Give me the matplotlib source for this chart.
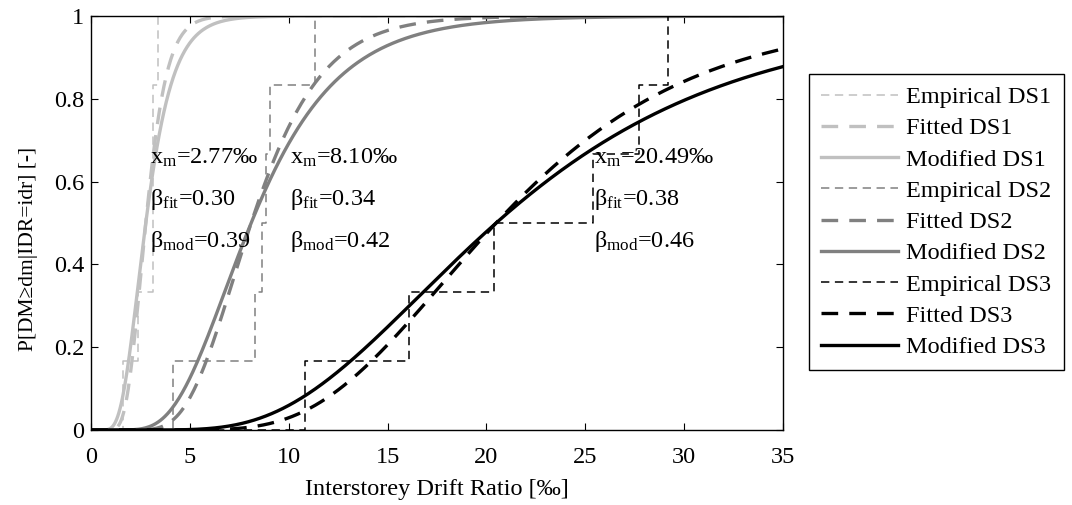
import math

import numpy as np
import matplotlib
matplotlib.use("Agg")
import matplotlib.pyplot as plt

# lognormal parameters shown on the chart
x_median = [2.77, 8.10, 20.49]
beta_fit = [0.30, 0.34, 0.38]
beta_mod = [0.39, 0.42, 0.46]

# empirical CDF steps
emp_x_ds1 = [0, 1.6, 2.4, 3.15, 3.4, 35]
emp_p_ds1 = [0, 1/6, 2/6, 5/6, 1, 1]
emp_x_ds2 = [0, 4.16, 8.28, 8.67, 8.84, 9.07, 11.35, 35]
emp_p_ds2 = [0, 1/6, 2/6, 3/6, 4/6, 5/6, 1, 1]
emp_x_ds3 = [0, 10.8, 16.08, 20.37, 25.4, 27.7, 29.16, 35]
emp_p_ds3 = [0, 1/6, 2/6, 3/6, 4/6, 5/6, 1, 1]

ds_names = ["DS1", "DS2", "DS3"]
ds_colors = ["#c0c0c0", "#808080", "#000000"]
text_x = [3.0, 10.05, 25.45]
x_ticks = [0, 5, 10, 15, 20, 25, 30, 35]
y_ticks = [0, 0.2, 0.4, 0.6, 0.8, 1]


def lognorm_cdf(x, xm, beta):
    z = np.log(x / xm) / (beta * math.sqrt(2))
    return 0.5 * (1 + np.vectorize(math.erf)(z))


plt.rcParams["font.family"] = ["Liberation Serif", "DejaVu Serif"]
plt.rcParams["mathtext.fontset"] = "custom"
plt.rcParams["mathtext.rm"] = "Liberation Serif"
plt.rcParams["mathtext.it"] = "Liberation Serif"
plt.rcParams["lines.scale_dashes"] = False
fs = 17.5

fig = plt.figure(figsize=(10.72, 5.05), dpi=100)
ax = fig.add_axes([91 / 1072, 1 - 430 / 505, 692 / 1072, 414 / 505])

emp_x = [emp_x_ds1, emp_x_ds2, emp_x_ds3]
emp_p = [emp_p_ds1, emp_p_ds2, emp_p_ds3]
xs = np.linspace(0.01, 35, 600)

for i in range(3):
    c = ds_colors[i]
    ax.step(emp_x[i], emp_p[i], where="post", color=c, lw=1.1,
            dashes=(6, 4), label="Empirical " + ds_names[i])
    ax.plot(xs, lognorm_cdf(xs, x_median[i], beta_fit[i]), color=c, lw=2.4,
            dashes=(12, 8), label="Fitted " + ds_names[i])
    ax.plot(xs, lognorm_cdf(xs, x_median[i], beta_mod[i]), color=c, lw=2.4,
            label="Modified " + ds_names[i])

for i in range(3):
    tx = text_x[i]
    ax.text(tx, 0.643, r"$\mathrm{x_m}$=%.2f‰" % x_median[i], fontsize=fs,
            va="baseline", ha="left")
    ax.text(tx, 0.543, r"$\mathrm{β_{fit}}$=%.2f" % beta_fit[i], fontsize=fs,
            va="baseline", ha="left")
    ax.text(tx, 0.443, r"$\mathrm{β_{mod}}$=%.2f" % beta_mod[i], fontsize=fs,
            va="baseline", ha="left")

ax.set_xlim(0, 35)
ax.set_ylim(0, 1)
ax.set_xticks(x_ticks)
ax.set_yticks(y_ticks)
ax.set_yticklabels(["%g" % v for v in y_ticks])
ax.tick_params(direction="in", length=5, width=0.8, top=True, right=True,
               labelsize=fs)
ax.tick_params(axis="x", pad=12)
ax.tick_params(axis="y", pad=5)
for s in ax.spines.values():
    s.set_linewidth(1.0)

ax.set_xlabel("Interstorey Drift Ratio [‰]", fontsize=fs, labelpad=8)
ax.set_ylabel("P[DM≥dm|IDR=idr] [-]", fontsize=15.5)
ax.yaxis.set_label_coords(-0.077, 0.437)

leg = ax.legend(loc="upper left", bbox_to_anchor=(809 / 1072, 1 - 74 / 505),
                bbox_transform=fig.transFigure, borderaxespad=0,
                fontsize=fs, frameon=True, fancybox=False, framealpha=1,
                edgecolor="black", handlelength=3.15, handletextpad=0.35,
                labelspacing=0.38, borderpad=0.5)
leg.get_frame().set_linewidth(1.0)

fig.savefig("out.png", dpi=100)
